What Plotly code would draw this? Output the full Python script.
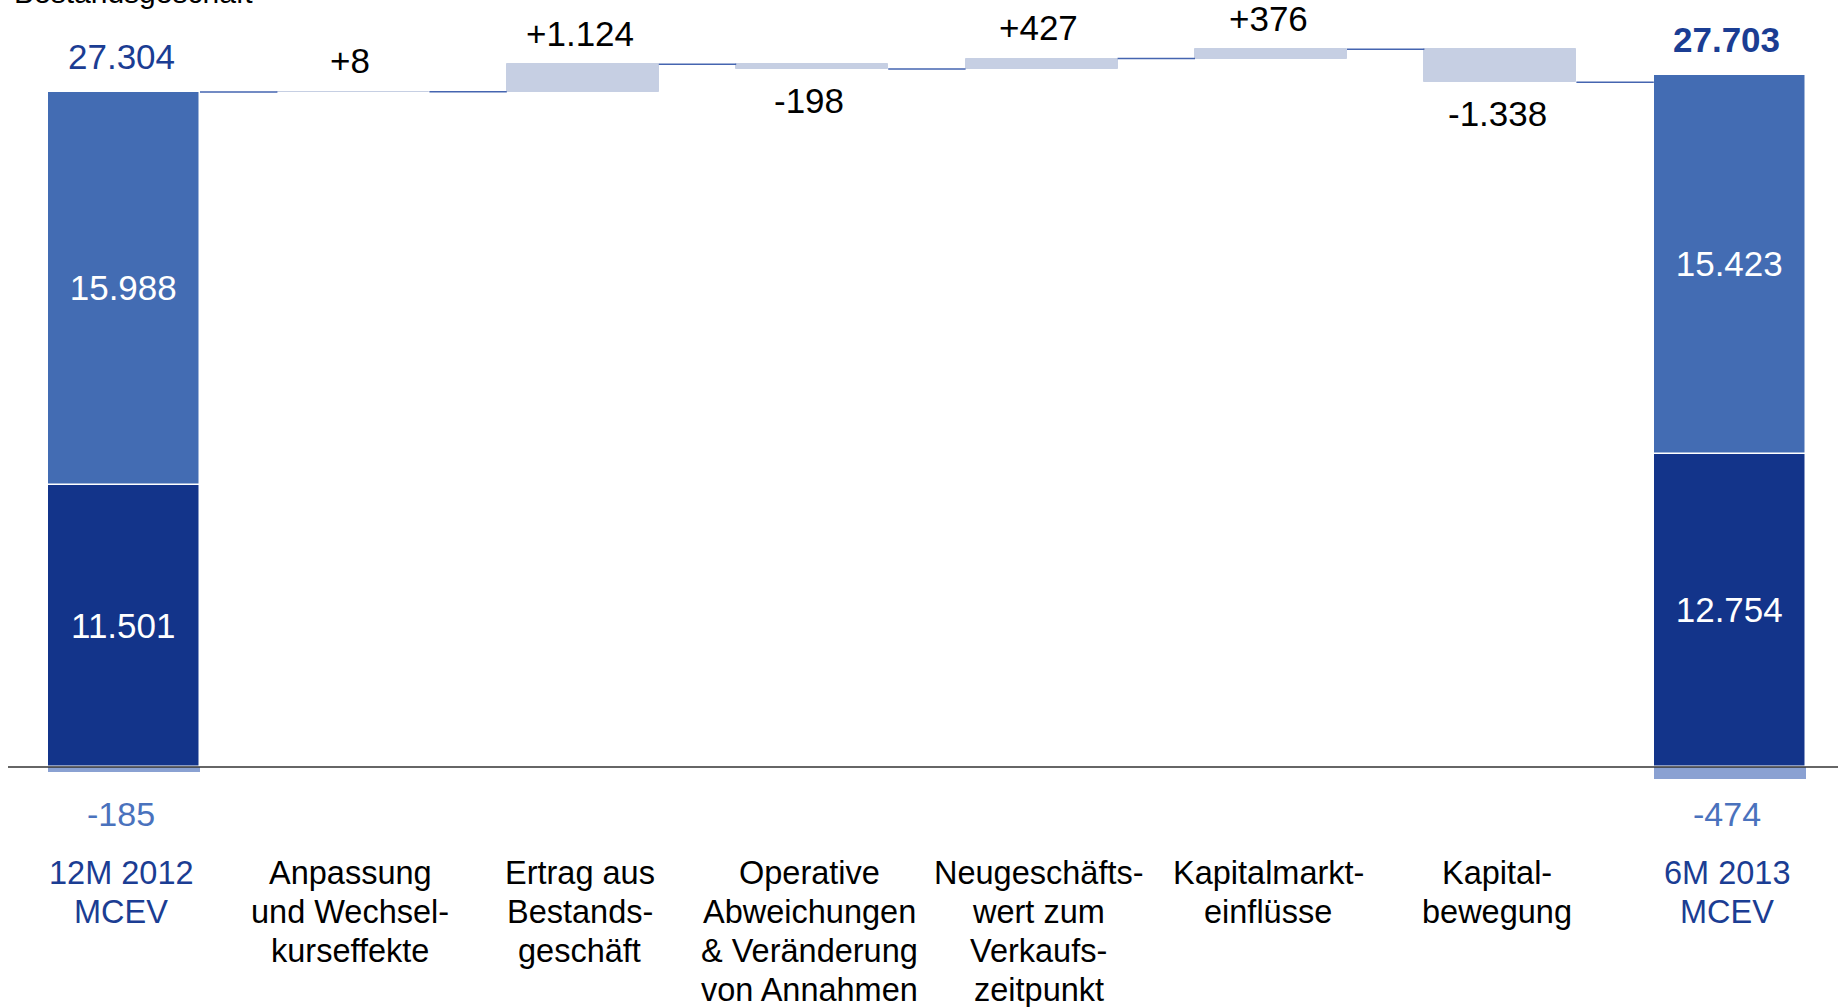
import plotly.graph_objects as go

# ---- data -------------------------------------------------------------
categories = [
    ["12M 2012", "MCEV"],
    ["Anpassung", "und Wechsel-", "kurseffekte"],
    ["Ertrag aus", "Bestands-", "geschäft"],
    ["Operative", "Abweichungen", "& Veränderung", "von Annahmen"],
    ["Neugeschäfts-", "wert zum", "Verkaufs-", "zeitpunkt"],
    ["Kapitalmarkt-", "einflüsse"],
    ["Kapital-", "bewegung"],
    ["6M 2013", "MCEV"],
]

# opening / closing MCEV, split into components (EUR m)
mcev_totals = [27304, 27703]
mcev_lower = [11501, 12754]
mcev_upper = [15988, 15423]
mcev_negative = [-185, -474]

# movements between the two reporting dates
movements = [8, 1124, -198, 427, 376, -1338]

legend_text = "Bestandsgeschäft"

# ---- styling ----------------------------------------------------------
FONT = "Arial, 'Liberation Sans', sans-serif"
DARK = "#13348a"
MID = "#436cb3"
NEG = "#8aa1d2"
FLOAT = "#c6cfe3"
CONN = "#4565b0"
BLUE_TXT = "#1b3d93"
NEG_TXT = "#4a72bd"

W, H = 1838, 1007
BASE_PX = 767            # pixel row of the zero line
PX_PER_UNIT = 675 / 27489
CAT0_PX, CAT_STEP = 124, 229.4
BAR_W = 152 / CAT_STEP
TXT_DX = -3              # labels sit slightly left of the bar centres


def fmt(v, sign=False):
    s = f"{v:+,}" if sign else f"{v:,}"
    return s.replace(",", ".")


n = len(categories)
ends = [0, n - 1]

# floating bars of the walk
level = mcev_lower[0] + mcev_upper[0]
levels = [level]
f_base, f_len = [], []
for d in movements:
    f_base.append(min(level, level + d))
    f_len.append(abs(d))
    level += d
    levels.append(level)
mid_x = list(range(1, n - 1))

fig = go.Figure()

fig.add_trace(go.Bar(
    x=ends, y=mcev_lower, base=[0, 0], width=BAR_W,
    marker=dict(color=DARK, line=dict(color="white", width=1.5)),
    text=[fmt(v) for v in mcev_lower], textposition="inside",
    insidetextanchor="middle", textangle=0,
    textfont=dict(family=FONT, size=35, color="white"),
    hoverinfo="skip", showlegend=False,
))
fig.add_trace(go.Bar(
    x=ends, y=mcev_upper, base=mcev_lower, width=BAR_W,
    marker=dict(color=MID, line=dict(color="white", width=1.5)),
    text=[fmt(v) for v in mcev_upper], textposition="inside",
    insidetextanchor="middle", textangle=0,
    textfont=dict(family=FONT, size=35, color="white"),
    hoverinfo="skip", showlegend=False,
))
fig.add_trace(go.Bar(
    x=ends, y=mcev_negative, base=[0, 0], width=BAR_W,
    marker=dict(color=NEG, line=dict(width=0)),
    hoverinfo="skip", showlegend=False,
))
fig.add_trace(go.Bar(
    x=mid_x, y=f_len, base=f_base, width=BAR_W,
    marker=dict(color=FLOAT, line=dict(color=FLOAT, width=1)),
    hoverinfo="skip", showlegend=False,
))

# connector lines between neighbouring bars
cx, cy = [], []
for k in range(n - 1):
    cx += [k + BAR_W / 2, k + 1 - BAR_W / 2, None]
    cy += [levels[k], levels[k], None]
fig.add_trace(go.Scatter(
    x=cx, y=cy, mode="lines", line=dict(color=CONN, width=1.5),
    hoverinfo="skip", showlegend=False,
))

annotations = []
# movement labels
for i, d, b, h in zip(mid_x, movements, f_base, f_len):
    annotations.append(dict(
        x=i, y=b + h if d > 0 else b, xref="x", yref="y",
        text=fmt(d, sign=True), showarrow=False,
        yanchor="middle", yshift=31 if d > 0 else -31, xshift=TXT_DX,
        font=dict(family=FONT, size=35, color="black"),
    ))
# totals above the end bars
for k, (i, t) in enumerate(zip(ends, mcev_totals)):
    annotations.append(dict(
        x=i, y=mcev_lower[k] + mcev_upper[k], xref="x", yref="y",
        text=f"<b>{fmt(t)}</b>" if k == 1 else fmt(t), showarrow=False,
        yanchor="middle", yshift=36, xshift=TXT_DX,
        font=dict(family=FONT, size=35, color=BLUE_TXT),
    ))
# negative components below the end bars
neg_row = min(mcev_negative)
for i, v in zip(ends, mcev_negative):
    annotations.append(dict(
        x=i, y=neg_row, xref="x", yref="y", text=fmt(v), showarrow=False,
        yanchor="middle", yshift=-35, xshift=TXT_DX,
        font=dict(family=FONT, size=34, color=NEG_TXT),
    ))
# category labels, one line at a time
LINE0_PX, LINE_STEP = 873, 38.9
for i, lines in enumerate(categories):
    col = BLUE_TXT if i in ends else "black"
    for j, line in enumerate(lines):
        annotations.append(dict(
            x=i, xref="x", y=1 - (LINE0_PX + j * LINE_STEP) / H, yref="paper",
            text=line, showarrow=False, yanchor="middle", xshift=TXT_DX,
            font=dict(family=FONT, size=32.5, color=col),
        ))
# legend entry at the top edge
annotations.append(dict(
    x=12 / W, xref="paper", xanchor="left", y=1, yref="paper",
    yanchor="middle", yshift=8, text=legend_text, showarrow=False,
    font=dict(family=FONT, size=30, color="black"),
))

fig.update_layout(
    width=W, height=H, autosize=False,
    margin=dict(l=0, r=0, t=0, b=0, pad=0),
    paper_bgcolor="white", plot_bgcolor="white",
    barmode="overlay", bargap=0,
    xaxis=dict(range=[-CAT0_PX / CAT_STEP, (W - CAT0_PX) / CAT_STEP],
               visible=False, fixedrange=True),
    yaxis=dict(range=[-(H - BASE_PX) / PX_PER_UNIT, BASE_PX / PX_PER_UNIT],
               visible=False, fixedrange=True),
    annotations=annotations,
    shapes=[dict(type="line", xref="paper", yref="y", x0=8 / W, x1=1,
                 y0=0, y1=0, line=dict(color="#333333", width=1.5),
                 layer="above")],
)

fig.write_html("out.html", config={"displayModeBar": False})
